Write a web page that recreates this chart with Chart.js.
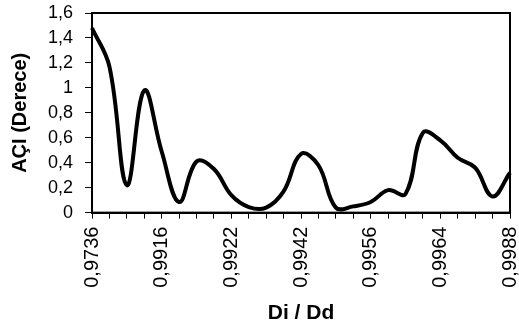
<!DOCTYPE html>
<html>
<head>
<meta charset="utf-8">
<script src="https://cdn.jsdelivr.net/npm/chart.js@4"></script>
<style>
  html, body { margin: 0; padding: 0; background: #fff; }
  #wrap { width: 519px; height: 334px; }
</style>
</head>
<body>
<div id="wrap"><canvas id="aciChart" width="519" height="334"></canvas></div>
<script>
// Di / Dd oranlari (x ekseni), yalnizca her 4. etiket gorunuyor
const oranlar = ['0,9736', '0,9796', '0,9856', '0,9886', '0,9916', '0,9918', '0,9919', '0,9920',
                 '0,9922', '0,9926', '0,9932', '0,9936', '0,9942', '0,9946', '0,9950', '0,9954',
                 '0,9956', '0,9958', '0,9960', '0,9962', '0,9964', '0,9970', '0,9976', '0,9982', '0,9988'];
// Aci degerleri (derece)
const acilar = [1.48, 1.17, 0.22, 0.98, 0.49, 0.085, 0.41, 0.35, 0.14, 0.045, 0.04, 0.17, 0.47,
                0.38, 0.04, 0.05, 0.085, 0.18, 0.15, 0.64, 0.58, 0.44, 0.36, 0.13, 0.32];
const yTicks = [0, 0.2, 0.4, 0.6, 0.8, 1, 1.2, 1.4, 1.6];

// grafik alanina cerceve ciz (ust ve sag kenar)
const frame = {
    id: 'frame',
    afterDraw(chart) {
        const a = chart.chartArea;
        const ctx = chart.ctx;
        ctx.save();
        ctx.strokeStyle = '#000';
        ctx.lineWidth = 2;
        ctx.strokeRect(a.left, a.top, a.right - a.left, a.bottom - a.top);
        ctx.restore();
    }
};

const ctx = document.getElementById('aciChart').getContext('2d');
new Chart(ctx, {
    type: 'line',
    data: {
        labels: oranlar,
        datasets: [{
            label: 'AÇI',
            data: acilar,
            borderColor: '#000',
            borderWidth: 4,
            pointRadius: 0,
            tension: 0.4,
            fill: false
        }]
    },
    options: {
        responsive: false,
        animation: false,
        layout: { padding: { top: 0, right: 9, left: 8, bottom: 8 } },
        plugins: { legend: { display: false }, tooltip: { enabled: false } },
        scales: {
            x: {
                offset: false,
                afterFit: function (axis) {
                    // son etiket icin eklenen bosluk olmasin
                    axis.paddingRight = 0;
                    axis.paddingLeft = 0;
                },
                grid: { drawOnChartArea: false, drawTicks: true, tickLength: 6, color: '#000', lineWidth: 1 },
                border: { display: true, color: '#000', width: 2 },
                ticks: {
                    autoSkip: false,
                    maxRotation: 90,
                    minRotation: 90,
                    color: '#000',
                    padding: 8,
                    font: { family: 'Liberation Sans', size: 20 },
                    callback: function (value, index) {
                        return index % 4 === 0 ? oranlar[index] : '';
                    }
                },
                title: {
                    display: true,
                    text: 'Di / Dd',
                    color: '#000',
                    font: { family: 'Liberation Sans', size: 21, weight: 'bold' },
                    padding: { top: 5, bottom: 0 }
                }
            },
            y: {
                min: 0,
                max: 1.6,
                afterBuildTicks: function (axis) {
                    axis.ticks = yTicks.map(v => ({ value: v }));
                },
                afterFit: function (axis) {
                    axis.paddingTop = 13;
                },
                grid: { drawOnChartArea: false, drawTicks: true, tickLength: 7, color: '#000', lineWidth: 1 },
                border: { display: true, color: '#000', width: 2 },
                ticks: {
                    color: '#000',
                    padding: 12,
                    font: { family: 'Liberation Sans', size: 18 },
                    callback: function (value) {
                        return String(Math.round(value * 10) / 10).replace('.', ',');
                    }
                },
                title: {
                    display: true,
                    text: 'AÇI (Derece)',
                    color: '#000',
                    font: { family: 'Liberation Sans', size: 20, weight: 'bold' },
                    padding: { top: 0, bottom: 4 }
                }
            }
        }
    },
    plugins: [frame]
});
</script>
</body>
</html>
